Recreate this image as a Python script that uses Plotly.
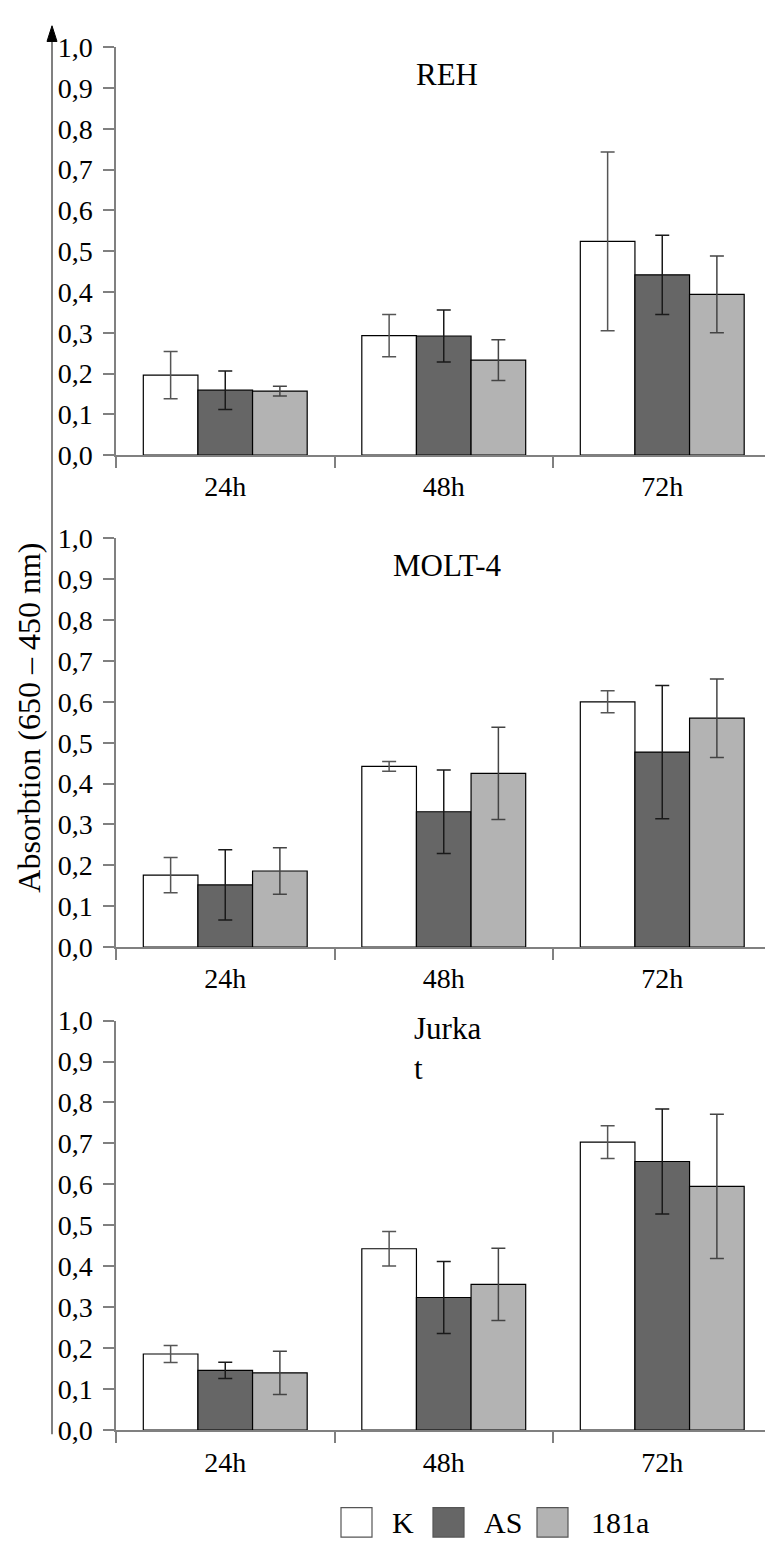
import plotly.graph_objects as go

# ---------------- data ----------------
categories = ["24h", "48h", "72h"]
series_names = ["K", "AS", "181a"]
panel_titles = ["REH", "MOLT-4", "Jurka<br>t"]
y_tick_values = [0.0, 0.1, 0.2, 0.3, 0.4, 0.5, 0.6, 0.7, 0.8, 0.9, 1.0]

reh_K = [0.196, 0.293, 0.524]
reh_K_err = [0.058, 0.052, 0.219]
reh_AS = [0.159, 0.292, 0.442]
reh_AS_err = [0.047, 0.064, 0.097]
reh_181a = [0.157, 0.233, 0.394]
reh_181a_err = [0.012, 0.050, 0.094]

molt_K = [0.176, 0.442, 0.600]
molt_K_err = [0.043, 0.012, 0.027]
molt_AS = [0.152, 0.331, 0.477]
molt_AS_err = [0.086, 0.102, 0.163]
molt_181a = [0.186, 0.425, 0.560]
molt_181a_err = [0.057, 0.113, 0.096]

jurkat_K = [0.186, 0.443, 0.703]
jurkat_K_err = [0.021, 0.042, 0.040]
jurkat_AS = [0.146, 0.324, 0.656]
jurkat_AS_err = [0.020, 0.088, 0.128]
jurkat_181a = [0.140, 0.356, 0.595]
jurkat_181a_err = [0.053, 0.088, 0.176]

panel_values = [
    [reh_K, reh_AS, reh_181a],
    [molt_K, molt_AS, molt_181a],
    [jurkat_K, jurkat_AS, jurkat_181a],
]
panel_errors = [
    [reh_K_err, reh_AS_err, reh_181a_err],
    [molt_K_err, molt_AS_err, molt_181a_err],
    [jurkat_K_err, jurkat_AS_err, jurkat_181a_err],
]

# ---------------- style ----------------
W, H = 765, 1555
FONT = "Liberation Serif, Times New Roman, Times, serif"
fills = ["#ffffff", "#666666", "#b3b3b3"]
err_colors = ["#555555", "#1a1a1a", "#444444"]
axis_gray = "#808080"

x_left_px = 116
cat_px = 218.5
x_range_max = -0.5 + (W - x_left_px) / cat_px

# (bottom px, top px) of each panel plot area
panel_px = [(449, 33), (951, 534), (1444, 1026)]
title_center_px = [61, 562, 1055]


def py(p):
    return (H - p) / H


fig = go.Figure()

for i in range(3):
    sfx = "" if i == 0 else str(i + 1)
    for s in range(3):
        fig.add_trace(go.Bar(
            x=categories,
            y=panel_values[i][s],
            name=series_names[s],
            offsetgroup=series_names[s],
            marker=dict(color=fills[s], line=dict(color="black", width=1.2)),
            error_y=dict(type="data", array=panel_errors[i][s], color=err_colors[s],
                         thickness=1.5, width=7),
            xaxis="x" + sfx, yaxis="y" + sfx,
            showlegend=False,
        ))
    b, t = panel_px[i]
    fig.update_layout(**{
        "xaxis" + sfx: dict(
            domain=[x_left_px / W, 1], range=[-0.5, x_range_max], type="category",
            categoryorder="array", categoryarray=categories,
            showline=True, linecolor=axis_gray, linewidth=1.5,
            ticks="outside", tickson="boundaries", ticklen=11, tickwidth=1.5,
            tickcolor=axis_gray, ticklabelstandoff=6,
            tickfont=dict(family=FONT, size=28, color="black"),
            showgrid=False, zeroline=False, anchor="y" + sfx, fixedrange=True,
        ),
        "yaxis" + sfx: dict(
            domain=[py(b), py(t)], range=[0, 1], tickvals=y_tick_values, tickformat=".1f",
            showline=True, linecolor=axis_gray, linewidth=1.5,
            ticks="outside", ticklen=11, tickwidth=1.5, tickcolor=axis_gray,
            ticklabelstandoff=5,
            tickfont=dict(family=FONT, size=28, color="black"),
            showgrid=False, zeroline=False, anchor="x" + sfx, fixedrange=True,
        ),
    })
    fig.add_annotation(
        text=panel_titles[i], xref="paper", yref="paper",
        x=447 / W, y=py(title_center_px[i]), xanchor="center", yanchor="middle",
        align="left", showarrow=False,
        font=dict(family=FONT, size=31, color="black"),
    )

# y-axis title
fig.add_annotation(
    text="Absorbtion (650 \u2013 450 nm)", xref="paper", yref="paper",
    x=29 / W, y=py(717), xanchor="center", yanchor="middle", textangle=-90,
    showarrow=False, font=dict(family=FONT, size=32, color="black"),
)

# long arrow on the left
fig.add_shape(type="line", xref="paper", yref="paper",
              x0=52 / W, x1=52 / W, y0=py(1448), y1=py(20),
              line=dict(color=axis_gray, width=2))
fig.add_shape(type="path", xref="paper", yref="paper",
              path=f"M {47 / W} {py(27)} L {52 / W} {py(11)} L {57 / W} {py(27)} Z",
              fillcolor="black", line=dict(color="black", width=1))

# legend (boxes + labels)
legend_box_x = [341, 433, 537]
legend_text_x = [390, 482, 589]
for s in range(3):
    fig.add_shape(type="rect", xref="paper", yref="paper",
                  x0=legend_box_x[s] / W, x1=(legend_box_x[s] + 31) / W,
                  y0=py(1553), y1=py(1523),
                  fillcolor=fills[s], line=dict(color="#555555", width=1.2))
    fig.add_annotation(text=series_names[s], xref="paper", yref="paper",
                       x=legend_text_x[s] / W, y=py(1538), xanchor="left", yanchor="middle",
                       showarrow=False, font=dict(family=FONT, size=30, color="black"))

fig.update_layout(
    width=W, height=H, margin=dict(l=0, r=0, t=0, b=0),
    barmode="group", bargap=0.25, bargroupgap=0,
    separators=", ",
    plot_bgcolor="white", paper_bgcolor="white",
    font=dict(family=FONT, color="black"),
    showlegend=False,
)

fig.write_html("out.html")
